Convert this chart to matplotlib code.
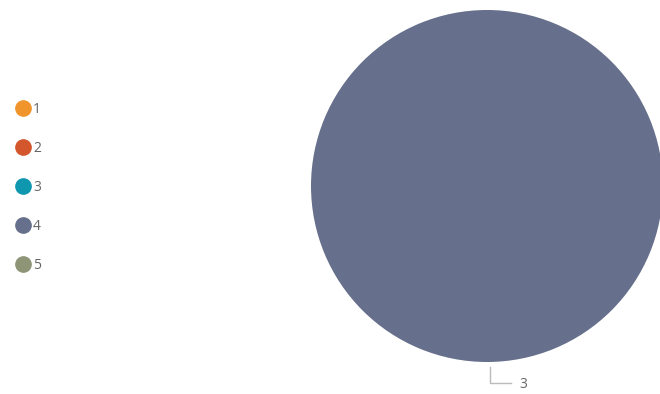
import matplotlib.pyplot as plt
from matplotlib.lines import Line2D
import numpy as np

plt.rcParams['font.family'] = ['Open Sans', 'DejaVu Sans']

categories = ['1', '2', '3', '4', '5']
values = [0, 0, 0, 3, 0]
colors = ['#F0952B', '#D3562D', '#0F97AF', '#666F8B', '#8E9577']

fig = plt.figure(figsize=(6.6, 3.94), dpi=100)
ax = fig.add_axes([311 / 660, 32 / 394, 352 / 660, 352 / 394])

wedges, _ = ax.pie(values, colors=colors, startangle=90, counterclock=False,
                   radius=1, wedgeprops=dict(linewidth=0))
ax.set_xlim(-1, 1)
ax.set_ylim(-1, 1)
ax.set_aspect('equal')
ax.axis('off')

# leader lines and value labels for non-empty slices
for w, v in zip(wedges, values):
    if v == 0:
        continue
    ang = np.deg2rad((w.theta1 + w.theta2) / 2)
    x0, y0 = 1.03 * np.cos(ang), 1.03 * np.sin(ang)
    x0 += 0.017
    y1 = y0 - 0.09
    ax.plot([x0, x0, x0 + 0.12], [y0, y1, y1], color='#BBBBBB', lw=1,
            clip_on=False)
    ax.text(x0 + 0.165, y1 - 0.01, str(v), color='#666666', fontsize=10,
            ha='left', va='center', clip_on=False)

handles = [Line2D([], [], marker='o', linestyle='none', markersize=11,
                  markerfacecolor=c, markeredgecolor=c) for c in colors]
fig.legend(handles, categories, loc='upper left',
           bbox_to_anchor=(17 / 660, 1 - 102 / 394),
           frameon=False, fontsize=10, labelcolor='#666666',
           handlelength=0.9, handletextpad=0.25, labelspacing=1.72,
           borderaxespad=0, borderpad=0)

fig.savefig('out.png', dpi=100)
